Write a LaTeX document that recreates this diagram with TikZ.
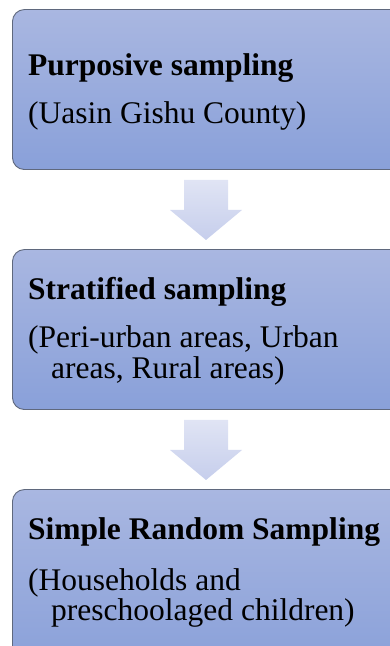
\documentclass[tikz,border=0pt]{standalone}
\usepackage{fontspec}
\setmainfont{Liberation Serif}
\usetikzlibrary{calc}
\begin{document}
\begin{tikzpicture}[x=1pt,y=1pt,
  stagebox/.style={draw=boxedge, line width=0.9pt, rounded corners=12pt,
    top color=boxtop, bottom color=boxbottom},
  flowarrow/.style={top color=arrowtop, bottom color=arrowbottom, draw=none},
  headline/.style={anchor=base west, inner sep=0pt, font=\fontsize{31.5}{31}\selectfont\bfseries},
  subline/.style={anchor=base west, inner sep=0pt, font=\fontsize{31.5}{31}\selectfont}]
\definecolor{boxtop}{RGB}{169,183,225}
\definecolor{boxbottom}{RGB}{137,160,217}
\definecolor{boxedge}{RGB}{95,104,125}
\definecolor{arrowtop}{RGB}{224,228,244}
\definecolor{arrowbottom}{RGB}{198,206,236}
\useasboundingbox (0,0) rectangle (390,646);
\clip (0,0) rectangle (390,646);

% stage boxes (they run past the right edge)
\node[stagebox, minimum width=390pt, minimum height=160pt, anchor=south west] (b1) at (12,476) {};
\node[stagebox, minimum width=390pt, minimum height=160pt, anchor=south west] (b2) at (12,236) {};
\node[stagebox, minimum width=390pt, minimum height=180pt, anchor=south west] (b3) at (12,-24) {};

% block arrows between the stages
\foreach \top/\nm in {466/a1, 226/a2} {
  \coordinate (\nm) at (206,\top);
  \path[flowarrow] ($(\nm)+(-22,0)$) -- ($(\nm)+(22,0)$) -- ($(\nm)+(22,-30)$)
     -- ($(\nm)+(36,-30)$) -- ($(\nm)+(0,-60)$) -- ($(\nm)+(-36,-30)$)
     -- ($(\nm)+(-22,-30)$) -- cycle;
}

% texts
\node[headline] (t1) at (28,570) {Purposive sampling};
\node[subline] (s1) at (28,522) {(Uasin Gishu County)};

\node[headline] (t2) at (28,346) {Stratified sampling};
\node[subline] (s2a) at (28,298) {(Peri-urban areas, Urban};
\node[subline] (s2b) at (51,267) {areas, Rural areas)};

\node[headline] (t3) at (28,106) {Simple Random Sampling};
\node[subline] (s3a) at (28,56) {(Households and};
\node[subline] (s3b) at (51,25) {preschoolaged children)};
\end{tikzpicture}
\end{document}
